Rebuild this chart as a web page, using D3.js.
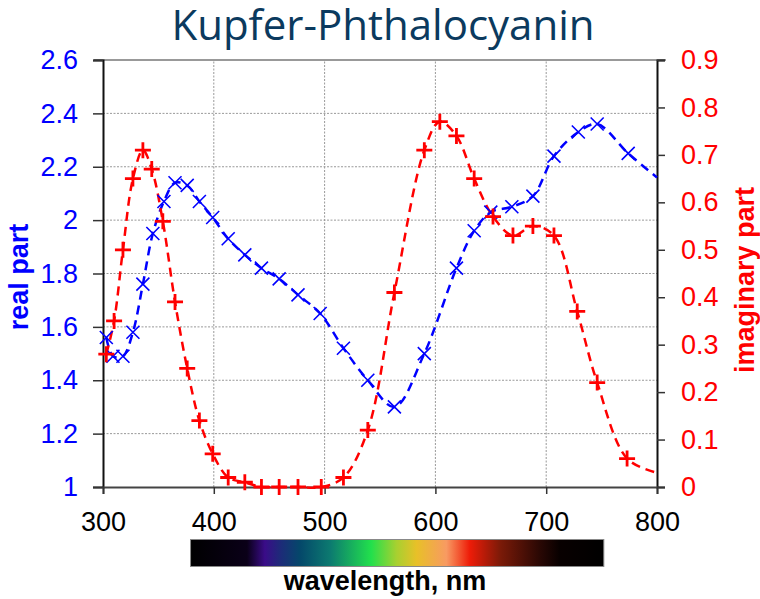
<!DOCTYPE html>
<html>
<head>
<meta charset="utf-8">
<script src="https://cdn.jsdelivr.net/npm/d3@7"></script>
<style>
	body { margin: 0; background: #fff; }
	svg text { font-family: "Liberation Sans", Arial, sans-serif; }
</style>
</head>
<body>
<div id="chart"></div>
<script>
// real part (blue x markers)
var wlReal = [303, 309, 318, 327, 336, 345, 355, 365, 376, 387, 399, 413, 428, 443, 459, 476, 496, 517, 539, 563, 590, 619, 635, 650, 669, 688, 707, 729, 746, 774];
var realPart = [1.56, 1.49, 1.49, 1.58, 1.76, 1.95, 2.07, 2.14, 2.13, 2.07, 2.01, 1.93, 1.87, 1.82, 1.78, 1.72, 1.65, 1.52, 1.40, 1.30, 1.50, 1.82, 1.96, 2.03, 2.05, 2.09, 2.24, 2.33, 2.36, 2.25];
// imaginary part (red + markers)
var wlImag = [303, 310, 318, 327, 336, 344, 354, 365, 376, 387, 399, 413, 428, 443, 459, 476, 497, 517, 539, 563, 590, 604, 619, 635, 652, 670, 688, 707, 728, 746, 773];
var imagPart = [0.28, 0.35, 0.50, 0.65, 0.71, 0.67, 0.56, 0.39, 0.25, 0.14, 0.07, 0.02, 0.01, 0, 0, 0, 0, 0.02, 0.12, 0.41, 0.71, 0.77, 0.74, 0.65, 0.57, 0.53, 0.55, 0.53, 0.37, 0.22, 0.06];
// where the dashed fit curves end at the right edge
var lineEndWl = [800];
var realEnd = [2.16];
var imagEnd = [0.03];

var xTicks = [300, 400, 500, 600, 700, 800];
var leftTicks = [1, 1.2, 1.4, 1.6, 1.8, 2, 2.2, 2.4, 2.6];
var rightTicks = [0, 0.1, 0.2, 0.3, 0.4, 0.5, 0.6, 0.7, 0.8, 0.9];

// colour bar: wavelength -> colour
var barWl = [379, 430, 446, 461, 478, 505, 542, 565, 583, 610, 631, 659, 694, 712, 752];
var barColors = ["#000000", "#0a0018", "#3a0c88", "#1c2c78", "#04486a", "#0c7a70", "#22e04c", "#a8d030", "#e8c028", "#f89a62", "#ee1c08", "#7a1a08", "#2a0804", "#080000", "#000000"];

var width = 760, height = 599;
var margin = {top: 60, bottom: 112, left: 103, right: 103};

var svg = d3.select("#chart").append("svg")
	.attr("width", width)
	.attr("height", height);

var x = d3.scaleLinear().domain([300, 800]).range([margin.left, width - margin.right]);
var yL = d3.scaleLinear().domain([1, 2.6]).range([height - margin.bottom, margin.top]);
var yR = d3.scaleLinear().domain([0, 0.9]).range([height - margin.bottom, margin.top]);

// title
svg.append("text")
	.attr("x", 383)
	.attr("y", 40)
	.attr("text-anchor", "middle")
	.style("font-family", "'Open Sans', 'Noto Sans', sans-serif")
	.style("font-size", "42px")
	.style("fill", "#0b3a5e")
	.text("Kupfer-Phthalocyanin");

// grid
svg.append("g").selectAll("line")
	.data(leftTicks.filter(function(d){ return d > 1 && d < 2.6; }))
	.enter().append("line")
	.attr("x1", x(300)).attr("x2", x(800))
	.attr("y1", function(d){ return yL(d); })
	.attr("y2", function(d){ return yL(d); })
	.style("stroke", "#999")
	.style("stroke-dasharray", "2,1.5");

svg.append("g").selectAll("line")
	.data(xTicks.filter(function(d){ return d > 300 && d < 800; }))
	.enter().append("line")
	.attr("x1", function(d){ return x(d); })
	.attr("x2", function(d){ return x(d); })
	.attr("y1", yL(1)).attr("y2", yL(2.6))
	.style("stroke", "#999")
	.style("stroke-dasharray", "2,1.5");

// top frame line
svg.append("line")
	.attr("x1", x(300) - 9).attr("x2", x(800) + 9)
	.attr("y1", yL(2.6)).attr("y2", yL(2.6))
	.style("stroke", "#777")
	.style("stroke-width", 1.5);

// axes
var fmt = d3.format("");
var leftAxis = svg.append("g")
	.attr("transform", "translate(" + x(300) + ",0)")
	.call(d3.axisLeft(yL).tickValues(leftTicks).tickSize(10).tickPadding(15).tickFormat(fmt));
var rightAxis = svg.append("g")
	.attr("transform", "translate(" + x(800) + ",0)")
	.call(d3.axisRight(yR).tickValues(rightTicks).tickSize(8).tickPadding(16).tickFormat(fmt));
var bottomAxis = svg.append("g")
	.attr("transform", "translate(0," + yL(1) + ")")
	.call(d3.axisBottom(x).tickValues(xTicks).tickSize(7).tickPadding(18).tickFormat(fmt));

[leftAxis, rightAxis, bottomAxis].forEach(function(a){
	a.select(".domain").style("stroke", "#111").style("stroke-width", 2);
	a.selectAll(".tick line").style("stroke", "#333").style("stroke-width", 1.5);
	a.selectAll(".tick text").style("font-family", "'Liberation Sans', Arial, sans-serif").style("font-size", "27px");
});
bottomAxis.select(".domain").style("stroke", "#444");
leftAxis.selectAll(".tick text").style("fill", "#0000ff");
rightAxis.selectAll(".tick text").style("fill", "#ff0000");
bottomAxis.selectAll(".tick text").style("fill", "#000");

// axis titles
svg.append("text")
	.attr("transform", "translate(19," + 277 + ") rotate(-90)")
	.attr("text-anchor", "middle")
	.attr("dy", "0.35em")
	.style("font-size", "27px")
	.style("font-weight", "bold")
	.style("fill", "#0000ff")
	.text("real part");

svg.append("text")
	.attr("transform", "translate(745," + 280 + ") rotate(-90)")
	.attr("text-anchor", "middle")
	.attr("dy", "0.35em")
	.style("font-size", "27px")
	.style("font-weight", "bold")
	.style("fill", "#ff0000")
	.text("imaginary part");

// data
var realPts = wlReal.map(function(d, i){ return [d, realPart[i]]; });
var imagPts = wlImag.map(function(d, i){ return [d, imagPart[i]]; });
var realLine = realPts.concat(lineEndWl.map(function(d, i){ return [d, realEnd[i]]; }));
var imagLine = imagPts.concat(lineEndWl.map(function(d, i){ return [d, imagEnd[i]]; }));

var plot = svg.append("g");

plot.append("path")
	.datum(realLine)
	.attr("d", d3.line()
		.x(function(d){ return x(d[0]); })
		.y(function(d){ return yL(d[1]); })
		.curve(d3.curveCatmullRom.alpha(0.5)))
	.style("fill", "none")
	.style("stroke", "#0000ff")
	.style("stroke-width", 2.5)
	.style("stroke-dasharray", "9,6");

plot.append("path")
	.datum(imagLine)
	.attr("d", d3.line()
		.x(function(d){ return x(d[0]); })
		.y(function(d){ return yR(d[1]); })
		.curve(d3.curveCatmullRom.alpha(0.5)))
	.style("fill", "none")
	.style("stroke", "#ff0000")
	.style("stroke-width", 2.5)
	.style("stroke-dasharray", "9,6");

var s = 6.5;
plot.selectAll(".xm")
	.data(realPts)
	.enter().append("path")
	.attr("class", "xm")
	.attr("transform", function(d){ return "translate(" + x(d[0]) + "," + yL(d[1]) + ")"; })
	.attr("d", "M" + (-s) + "," + (-s) + "L" + s + "," + s + "M" + (-s) + "," + s + "L" + s + "," + (-s))
	.style("stroke", "#0000ff")
	.style("stroke-width", 1.6);

var p = 8;
plot.selectAll(".pm")
	.data(imagPts)
	.enter().append("path")
	.attr("class", "pm")
	.attr("transform", function(d){ return "translate(" + x(d[0]) + "," + yR(d[1]) + ")"; })
	.attr("d", "M" + (-p) + ",0H" + p + "M0," + (-p) + "V" + p)
	.style("stroke", "#ff0000")
	.style("stroke-width", 2.8);

// colour bar
var defs = svg.append("defs");
var gradient = defs.append("linearGradient").attr("id", "spectrum");
gradient.selectAll("stop")
	.data(barWl)
	.enter().append("stop")
	.attr("offset", function(d){ return (100 * (d - barWl[0]) / (barWl[barWl.length - 1] - barWl[0])) + "%"; })
	.attr("stop-color", function(d, i){ return barColors[i]; });

svg.append("rect")
	.attr("x", x(barWl[0]))
	.attr("y", 539.5)
	.attr("width", x(barWl[barWl.length - 1]) - x(barWl[0]))
	.attr("height", 27)
	.style("fill", "url(#spectrum)")
	.style("stroke", "#888")
	.style("stroke-width", 1);

svg.append("text")
	.attr("x", 385)
	.attr("y", 590)
	.attr("text-anchor", "middle")
	.style("font-size", "27px")
	.style("font-weight", "bold")
	.style("fill", "#000")
	.text("wavelength, nm");
</script>
</body>
</html>
